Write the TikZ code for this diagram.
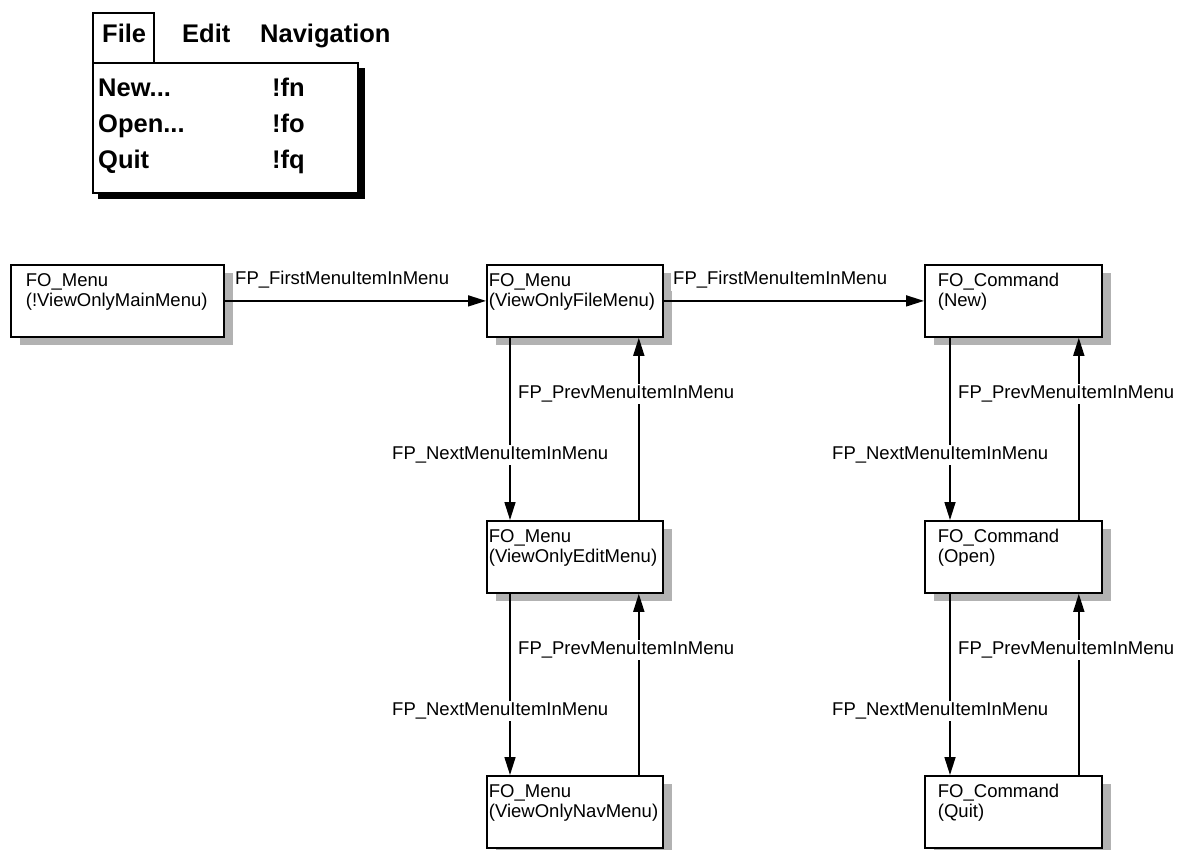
\documentclass[tikz,border=0pt]{standalone}
\usepackage{fontspec}
\setmainfont{Liberation Sans}
\usetikzlibrary{arrows.meta,shadows,positioning,calc}

\begin{document}
\begin{tikzpicture}[x=1pt,y=-1pt,
   obj/.style={draw=black,line width=1.8pt,fill=white,anchor=north west,align=left,
      text width=151pt,inner xsep=13pt,inner ysep=9pt,text height=13pt,text depth=41pt,
      font=\fontsize{18.5}{20}\selectfont,
      drop shadow={shadow xshift=9pt,shadow yshift=-8pt,fill=black!30,opacity=1}},
   rel/.style={line width=1.6pt,-{Triangle[length=18pt,width=11pt]}},
   lbl/.style={fill=white,inner sep=2pt,anchor=west,font=\fontsize{18.5}{20}\selectfont},
   mtxt/.style={anchor=base west,inner sep=0pt,font=\fontsize{25.5}{28}\selectfont\bfseries}]
   \useasboundingbox (0,0) rectangle (1183,850);

   % menu bar with the open File menu
   \fill (98,68) rectangle (365,199);
   \draw [line width=2pt,fill=white] (93,63) rectangle (358,193);
   \draw [line width=2pt] (93,63) -- (93,13) -- (154,13) -- (154,63);
   \node (mfile) [mtxt] at (102,43) {File};
   \node (medit) [mtxt] at (182,43) {Edit};
   \node (mnav)  [mtxt] at (260,43) {Navigation};
   \node (inew)  [mtxt] at (98,97)  {New...};
   \node (knew)  [mtxt] at (272,97) {!fn};
   \node (iopen) [mtxt] at (98,133) {Open...};
   \node (kopen) [mtxt] at (272,133) {!fo};
   \node (iquit) [mtxt] at (98,169) {Quit};
   \node (kquit) [mtxt] at (272,169) {!fq};

   % objects
   \path (10,264)  node (mainmenu) [obj,text width=183pt,inner xsep=15pt] {FO\_Menu\\(!ViewOnlyMainMenu)}
         (486,264) node (filemenu) [obj,text width=172pt,inner xsep=2pt] {FO\_Menu\\(ViewOnlyFileMenu)}
         (486,520) node (editmenu) [obj,text width=172pt,inner xsep=2pt] {FO\_Menu\\(ViewOnlyEditMenu)}
         (486,775) node (navmenu)  [obj,text width=172pt,inner xsep=2pt] {FO\_Menu\\(ViewOnlyNavMenu)}
         (924,264) node (cmdnew)   [obj] {FO\_Command\\(New)}
         (924,520) node (cmdopen)  [obj] {FO\_Command\\(Open)}
         (924,775) node (cmdquit)  [obj] {FO\_Command\\(Quit)};

   % relations
   \draw [rel] (mainmenu.east) -- (filemenu.west);
   \draw [rel] (filemenu.east) -- (cmdnew.west);
   \draw [rel] ([xshift=24pt]filemenu.south west) -- ([xshift=24pt]editmenu.north west);
   \draw [rel] ([xshift=-25pt]editmenu.north east) -- ([xshift=-25pt]filemenu.south east);
   \draw [rel] ([xshift=24pt]editmenu.south west) -- ([xshift=24pt]navmenu.north west);
   \draw [rel] ([xshift=-25pt]navmenu.north east) -- ([xshift=-25pt]editmenu.south east);
   \draw [rel] ([xshift=26pt]cmdnew.south west) -- ([xshift=26pt]cmdopen.north west);
   \draw [rel] ([xshift=-24pt]cmdopen.north east) -- ([xshift=-24pt]cmdnew.south east);
   \draw [rel] ([xshift=26pt]cmdopen.south west) -- ([xshift=26pt]cmdquit.north west);
   \draw [rel] ([xshift=-24pt]cmdquit.north east) -- ([xshift=-24pt]cmdopen.south east);

   % relation names
   \node (lfirsta) [lbl] at (233,280) {FP\_FirstMenuItemInMenu};
   \node (lfirstb) [lbl] at (671,280) {FP\_FirstMenuItemInMenu};
   \node (lpreva)  [lbl] at (516,394) {FP\_PrevMenuItemInMenu};
   \node (lnexta)  [lbl] at (390,455) {FP\_NextMenuItemInMenu};
   \node (lprevb)  [lbl] at (516,650) {FP\_PrevMenuItemInMenu};
   \node (lnextb)  [lbl] at (390,711) {FP\_NextMenuItemInMenu};
   \node (lprevc)  [lbl] at (956,394) {FP\_PrevMenuItemInMenu};
   \node (lnextc)  [lbl] at (830,455) {FP\_NextMenuItemInMenu};
   \node (lprevd)  [lbl] at (956,650) {FP\_PrevMenuItemInMenu};
   \node (lnextd)  [lbl] at (830,711) {FP\_NextMenuItemInMenu};
\end{tikzpicture}
\end{document}
